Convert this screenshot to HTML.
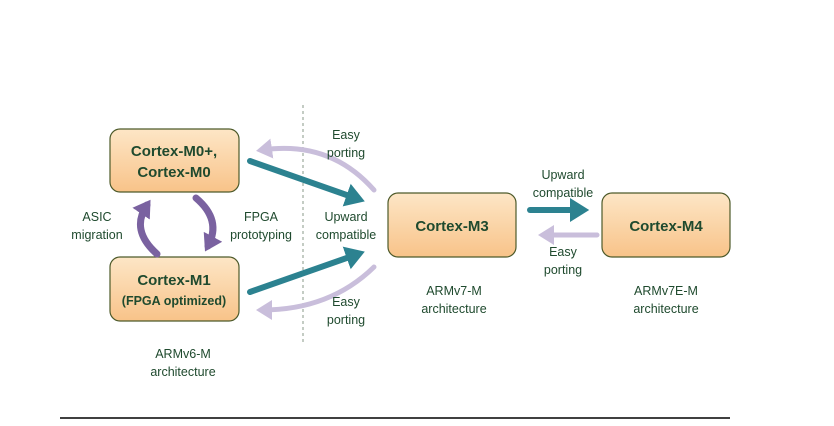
<!DOCTYPE html>
<html><head><style>
body{margin:0;background:#fff;}
.t{font-family:"Liberation Sans",sans-serif;fill:#1f4a2e;font-size:12.5px;text-anchor:middle}
.b{font-weight:bold;font-size:15px}
</style></head><body>
<svg width="834" height="421" xmlns="http://www.w3.org/2000/svg">
<defs>
<linearGradient id="g" x1="0" y1="0" x2="0" y2="1"><stop offset="0" stop-color="#fde6c6"/><stop offset="1" stop-color="#f8c389"/></linearGradient>
<marker id="ta" markerWidth="4" markerHeight="4" refX="2" refY="2" orient="auto" markerUnits="strokeWidth"><path d="M0,0L3.2,2L0,4z" fill="#2c8290"/></marker>
<marker id="la" markerWidth="4" markerHeight="4" refX="2" refY="2" orient="auto" markerUnits="strokeWidth"><path d="M0,0L3.2,2L0,4z" fill="#c9bedb"/></marker>
<marker id="pa" markerWidth="3" markerHeight="3" refX="1.5" refY="1.5" orient="auto" markerUnits="strokeWidth"><path d="M0,0L2.4,1.5L0,3z" fill="#7a62a0"/></marker>
</defs>
<line x1="303" y1="105" x2="303" y2="342" stroke="#8a9a8a" stroke-dasharray="3,3" stroke-width="1"/>
<line x1="60" y1="418" x2="730" y2="418" stroke="#000" stroke-width="1.5"/>
<g stroke="#4d5a2a" stroke-width="1.2" fill="url(#g)">
<rect x="110" y="129" width="129" height="63" rx="10"/>
<rect x="110" y="257" width="129" height="64" rx="10"/>
<rect x="388" y="193" width="128" height="64" rx="10"/>
<rect x="602" y="193" width="128" height="64" rx="10"/>
</g>
<g fill="none" stroke-linecap="round">
<path d="M374,190 Q330,140 262,150" stroke="#c9bedb" stroke-width="5" marker-end="url(#la)"/>
<path d="M374,267 Q330,310 262,310" stroke="#c9bedb" stroke-width="5" marker-end="url(#la)"/>
<line x1="250" y1="161" x2="358" y2="199" stroke="#2c8290" stroke-width="6" marker-end="url(#ta)"/>
<line x1="250" y1="292" x2="358" y2="254" stroke="#2c8290" stroke-width="6" marker-end="url(#ta)"/>
<line x1="530" y1="210" x2="582" y2="210" stroke="#2c8290" stroke-width="6" marker-end="url(#ta)"/>
<line x1="597" y1="235" x2="544" y2="235" stroke="#c9bedb" stroke-width="5" marker-end="url(#la)"/>
<path d="M157,254 Q130,230 147,205" stroke="#7a62a0" stroke-width="7" marker-end="url(#pa)"/>
<path d="M196,198 Q222,220 208,246" stroke="#7a62a0" stroke-width="7" marker-end="url(#pa)"/>
</g>
<text class="t b" x="174" y="156">Cortex-M0+,</text>
<text class="t b" x="174" y="177">Cortex-M0</text>
<text class="t b" x="174" y="285">Cortex-M1</text>
<text class="t" x="174" y="305" style="font-weight:bold;font-size:12.5px">(FPGA optimized)</text>
<text class="t b" x="452" y="231">Cortex-M3</text>
<text class="t b" x="666" y="231">Cortex-M4</text>
<text class="t" x="97" y="221">ASIC</text><text class="t" x="97" y="239">migration</text>
<text class="t" x="261" y="221">FPGA</text><text class="t" x="261" y="239">prototyping</text>
<text class="t" x="346" y="139">Easy</text><text class="t" x="346" y="157">porting</text>
<text class="t" x="346" y="221">Upward</text><text class="t" x="346" y="239">compatible</text>
<text class="t" x="346" y="306">Easy</text><text class="t" x="346" y="324">porting</text>
<text class="t" x="563" y="179">Upward</text><text class="t" x="563" y="197">compatible</text>
<text class="t" x="563" y="256">Easy</text><text class="t" x="563" y="274">porting</text>
<text class="t" x="454" y="295">ARMv7-M</text><text class="t" x="454" y="313">architecture</text>
<text class="t" x="666" y="295">ARMv7E-M</text><text class="t" x="666" y="313">architecture</text>
<text class="t" x="183" y="358">ARMv6-M</text><text class="t" x="183" y="376">architecture</text>
</svg>
</body></html>
